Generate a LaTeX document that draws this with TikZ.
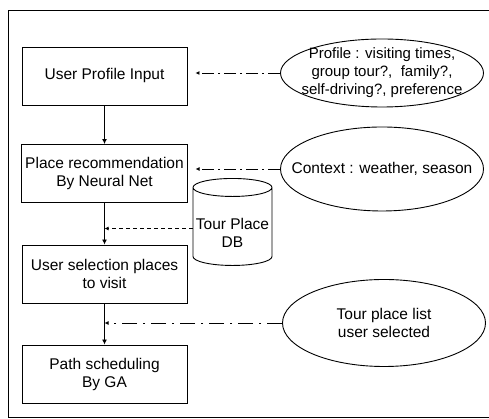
\documentclass[tikz,border=0pt]{standalone}
\usepackage{fontspec}
\setmainfont{Liberation Sans}
\usetikzlibrary{shapes.geometric,arrows.meta}

\begin{document}
\begin{tikzpicture}[x=1pt,y=1pt,font=\fontsize{15.5}{18}\selectfont,
		stage/.style={draw,line width=0.9pt,minimum width=165pt,minimum height=58pt,align=center},
		source/.style={draw,ellipse,line width=0.9pt,minimum width=203pt},
		flow/.style={line width=0.9pt,-{Latex[length=5pt,width=5pt]}},
		userline/.style={line width=0.9pt,dash pattern=on 12pt off 4pt on 2pt off 4pt,-{Latex[length=4pt,width=4pt]}},
		dbline/.style={line width=0.8pt,dash pattern=on 4pt off 3pt,-{Latex[length=4pt,width=4pt]}},
		listline/.style={line width=0.8pt,dash pattern=on 15pt off 6pt on 2pt off 6pt,-{Latex[length=4pt,width=4pt]}}]
		\useasboundingbox (0,0) rectangle (489,419);
		\draw[line width=0.8pt] (489,409) -- (8,409) -- (8,2) -- (489,2);
		% processing steps
		\node[stage] (input) at (104.5,343) {User Profile Input};
		\node[stage] (recom) at (104.5,245.5) {Place recommendation\\By Neural Net};
		\node[stage] (select) at (104.5,145) {User selection places\\to visit};
		\node[stage] (sched) at (104.5,45) {Path scheduling\\By GA};
		% inputs
		\node[source,minimum height=68pt,label={[align=center,font=\fontsize{15}{18}\selectfont]center:Profile : visiting times,\\group tour?,~~family?,\\self-driving?, preference}] (profile) at (382,346) {};
		\node[source,minimum height=84pt,label={center:Context : weather, season}] (context) at (382,250) {};
		\node[source,minimum height=87pt,label={[align=center]center:Tour place list\\user selected}] (list) at (384,96) {};
		\node[draw,cylinder,shape border rotate=90,aspect=2.7,line width=0.9pt,minimum width=79pt,minimum height=87pt,label={[align=center,yshift=-4pt]center:Tour Place\\DB}] (db) at (232.5,190.5) {};
		\coordinate (p1) at ([xshift=8pt]input.east);
		\coordinate (p2) at ([xshift=8pt]recom.east);
		\draw[flow] (input) -- (recom);
		\draw[flow] (recom) -- (select);
		\draw[flow] (select) -- (sched);
		\draw[userline] (profile.west) -- (p1 |- profile.west);
		\draw[userline] (context.west) -- (p2 |- context.west);
		\draw[dbline] (db.west) -- (db.west -| recom.south);
		\draw[listline] (list.west) -- (list.west -| select.south);
	\end{tikzpicture}
\end{document}
